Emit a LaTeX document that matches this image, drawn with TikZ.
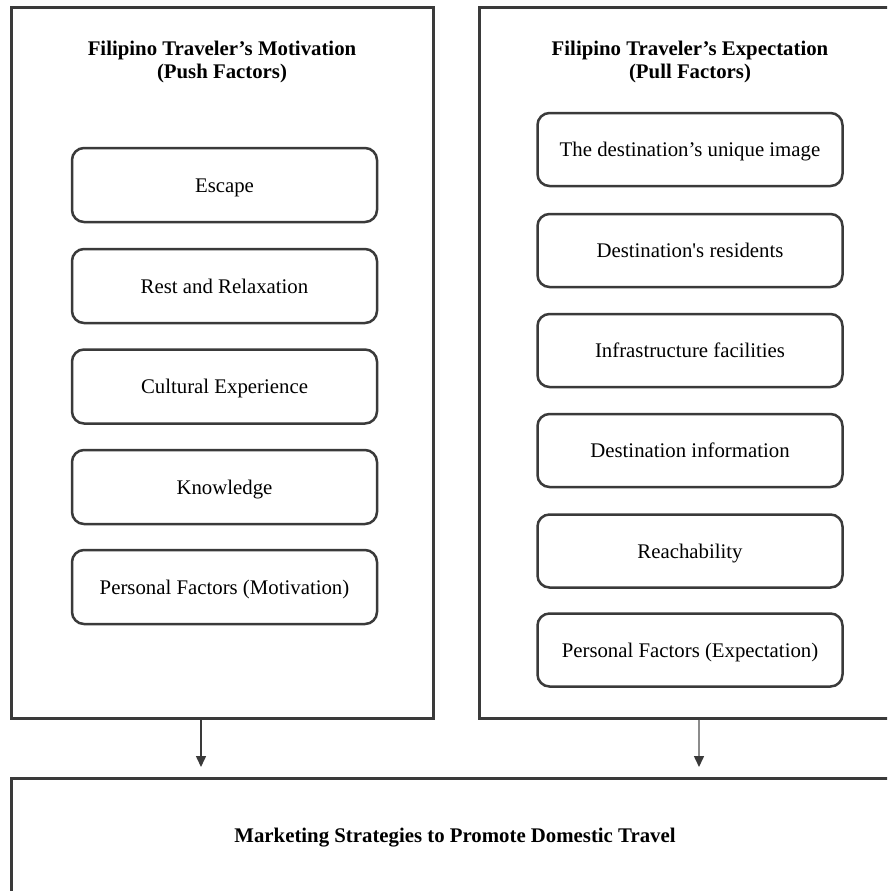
\documentclass[tikz,border=0pt]{standalone}
\usepackage{fontspec}
\setmainfont{Liberation Serif}
\usetikzlibrary{arrows.meta}
\definecolor{edge}{HTML}{3A3A3A}
\definecolor{edgelight}{HTML}{8C8C8C}
\begin{document}
\begin{tikzpicture}[x=1pt,y=-1pt,
  panel/.style={draw=edge,line width=3pt,inner sep=0pt},
  item/.style={draw=edge,line width=2.5pt,rounded corners=12pt,minimum width=305pt,minimum height=73pt,inner sep=0pt,text height=14pt,text depth=0pt,font=\fontsize{20.8}{24}\selectfont},
  title/.style={align=center,inner sep=0pt,font=\fontsize{20.8}{23}\selectfont\bfseries},
  arr/.style={draw=edge,line width=1.5pt,-{Triangle[width=10pt,length=11pt,color=edge]},shorten >=9.5pt}]
\clip (0,0) rectangle (887,891);
\fill[white] (0,0) rectangle (887,891);
% panels
\node[panel,minimum width=422pt,minimum height=710pt] (lp) at (222,363) {};
\node[panel,minimum width=422pt,minimum height=710pt] (rp) at (690,363) {};
\node[panel,minimum width=888pt,minimum height=140pt] (mkt) at (455,848) {};
% titles
\node[title] (lt) at (222,62) {Filipino Traveler’s Motivation\\(Push Factors)};
\node[title] (rt) at (690,62) {Filipino Traveler’s Expectation\\(Pull Factors)};
\node[title,text height=14pt,text depth=0pt] (mt) at (455,835) {Marketing Strategies to Promote Domestic Travel};
% left items
\node[item,minimum height=74pt] (l1) at (224.5,185) {Escape};
\node[item,minimum height=74pt] (l2) at (224.5,286) {Rest and Relaxation};
\node[item,minimum height=74pt] (l3) at (224.5,386.5) {Cultural Experience};
\node[item,minimum height=74pt] (l4) at (224.5,487) {Knowledge};
\node[item,minimum height=74pt] (l5) at (224.5,587) {Personal Factors (Motivation)};
% right items
\node[item] (r1) at (690,149.5) {The destination’s unique image};
\node[item] (r2) at (690,250.5) {Destination\textquotesingle s residents};
\node[item] (r3) at (690,350.5) {Infrastructure facilities};
\node[item] (r4) at (690,450.5) {Destination information};
\node[item] (r5) at (690,551) {Reachability};
\node[item] (r6) at (690,650) {Personal Factors (Expectation)};
% arrows
\draw[arr] ([xshift=-21pt]lp.south) -- ([xshift=-21pt]lp.south |- mkt.north);
\draw[arr,draw=edgelight] ([xshift=9pt]rp.south) -- ([xshift=9pt]rp.south |- mkt.north);
\end{tikzpicture}
\end{document}
